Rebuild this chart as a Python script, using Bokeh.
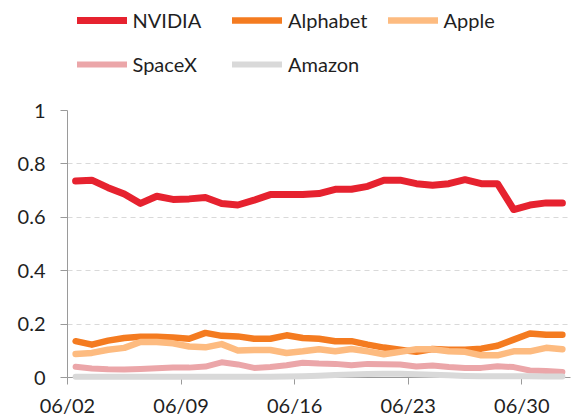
from bokeh.plotting import figure
from bokeh.layouts import column
from bokeh.models import FixedTicker, Legend, LegendItem, Range1d
from bokeh.embed import file_html
from bokeh.resources import INLINE
import numpy as np

days = ["06/02", "06/03", "06/04", "06/05", "06/06", "06/07", "06/08", "06/09",
        "06/10", "06/11", "06/12", "06/13", "06/14", "06/15", "06/16", "06/17",
        "06/18", "06/19", "06/20", "06/21", "06/22", "06/23", "06/24", "06/25",
        "06/26", "06/27", "06/28", "06/29", "06/30", "07/01", "07/02"]

nvidia = [0.736, 0.739, 0.711, 0.687, 0.652, 0.679, 0.667, 0.669, 0.674, 0.652, 0.646,
          0.664, 0.685, 0.685, 0.685, 0.689, 0.705, 0.705, 0.716, 0.739, 0.739, 0.726,
          0.720, 0.726, 0.741, 0.726, 0.726, 0.629, 0.646, 0.654, 0.654]
alphabet = [0.136, 0.123, 0.138, 0.148, 0.153, 0.153, 0.150, 0.145, 0.167, 0.156, 0.154,
            0.145, 0.145, 0.158, 0.148, 0.145, 0.136, 0.136, 0.123, 0.112, 0.104, 0.096,
            0.107, 0.104, 0.104, 0.108, 0.119, 0.142, 0.165, 0.160, 0.160]
apple = [0.088, 0.092, 0.104, 0.111, 0.133, 0.133, 0.128, 0.116, 0.113, 0.125, 0.101,
         0.103, 0.103, 0.092, 0.098, 0.106, 0.098, 0.107, 0.098, 0.087, 0.096, 0.106,
         0.106, 0.098, 0.096, 0.083, 0.083, 0.098, 0.098, 0.111, 0.106]
spacex = [0.040, 0.034, 0.031, 0.030, 0.032, 0.035, 0.037, 0.037, 0.041, 0.057, 0.049,
          0.036, 0.039, 0.046, 0.055, 0.052, 0.051, 0.046, 0.051, 0.050, 0.049, 0.041,
          0.045, 0.039, 0.036, 0.036, 0.042, 0.039, 0.026, 0.024, 0.021]
amazon = [0.003, 0.003, 0.003, 0.003, 0.003, 0.003, 0.003, 0.003, 0.003, 0.003, 0.003,
          0.003, 0.003, 0.004, 0.005, 0.007, 0.009, 0.011, 0.013, 0.014, 0.014, 0.012,
          0.010, 0.008, 0.006, 0.005, 0.005, 0.005, 0.005, 0.004, 0.004]

series_names = ["NVIDIA", "Alphabet", "Apple", "SpaceX", "Amazon"]
series_values = [nvidia, alphabet, apple, spacex, amazon]
colors = ["#E6222F", "#F47B20", "#FDBB80", "#EBA6A9", "#D9D9D9"]
widths = [7, 6.5, 6.5, 6, 6]

x_tick_labels = ["06/02", "06/09", "06/16", "06/23", "06/30"]
y_ticks = [0, 0.2, 0.4, 0.6, 0.8, 1]
y_tick_labels = ["0", "0.2", "0.4", "0.6", "0.8", "1"]

FONT = "Lato"
TEXT = "#1f1f1f"
AXIS = "#9a9a9a"

x = np.arange(len(days)) + 0.5
x_ticks = [days.index(d) for d in x_tick_labels]

W = 583
LEG_H = 90
MAIN_H = 329

# ---------- main chart ----------
p = figure(width=W, height=MAIN_H, output_backend="svg", toolbar_location=None,
           x_range=Range1d(0, len(days)), y_range=Range1d(0, 1),
           min_border_left=67, min_border_right=13, min_border_top=20, min_border_bottom=41)
p.outline_line_color = None
p.background_fill_color = "white"
p.border_fill_color = "white"

for vals, col, w in zip(series_values, colors, widths):
    p.line(x, vals, line_color=col, line_width=w, line_cap="round", line_join="round",
           level="overlay")

p.xaxis.ticker = FixedTicker(ticks=x_ticks)
p.xaxis.major_label_overrides = {t: l for t, l in zip(x_ticks, x_tick_labels)}
p.yaxis.ticker = FixedTicker(ticks=y_ticks)
p.yaxis.major_label_overrides = {t: l for t, l in zip(y_ticks, y_tick_labels)}
for ax in (p.xaxis, p.yaxis):
    ax.axis_line_color = AXIS
    ax.major_tick_line_color = AXIS
    ax.minor_tick_line_color = None
    ax.major_tick_in = 0
    ax.major_tick_out = 7
    ax.major_label_text_font = FONT
    ax.major_label_text_font_size = "20px"
    ax.major_label_text_color = TEXT
p.yaxis.major_label_standoff = 15
p.xaxis.major_label_standoff = 8

p.xgrid.grid_line_color = None
p.ygrid.grid_line_color = "#d9d9d9"
p.ygrid.grid_line_dash = "5 4"
p.ygrid.grid_line_width = 1

# ---------- legend strip (same series, drawn outside its visible range) ----------
lg = figure(width=W, height=LEG_H, output_backend="svg", toolbar_location=None,
            x_axis_location=None, y_axis_location=None,
            x_range=Range1d(0, len(days)), y_range=Range1d(5, 6),
            min_border=0, min_border_left=67, min_border_right=13,
            min_border_top=0, min_border_bottom=0)
lg.outline_line_color = None
lg.grid.grid_line_color = None
lg.background_fill_color = "white"
lg.border_fill_color = "white"
leg_renderers = []
for vals, col, w in zip(series_values, colors, widths):
    r = lg.line(x, vals, line_color=col, line_width=w, line_cap="round", line_join="round")
    leg_renderers.append(r)

columns = [[0, 3], [1, 4], [2]]
col_x = [9.5, 165, 320.5]
item_h = 26
gap = 18
first_center = 20
for idxs, vx in zip(columns, col_x):
    items = [LegendItem(label=series_names[i], renderers=[leg_renderers[i]]) for i in idxs]
    n = len(idxs)
    height = n * item_h + (n - 1) * gap
    bottom = first_center - item_h / 2 + height
    vy = LEG_H - bottom
    leg = Legend(items=items, location=(vx, vy), orientation="vertical",
                 border_line_color=None, background_fill_alpha=0,
                 padding=0, margin=0, spacing=gap,
                 glyph_width=50, glyph_height=item_h, label_height=item_h,
                 label_standoff=6, label_text_font=FONT, label_text_font_size="20px",
                 label_text_color=TEXT, label_text_baseline="middle")
    lg.add_layout(leg, "center")

layout = column(lg, p, spacing=0)
open("out.html", "w").write(file_html(layout, INLINE))
